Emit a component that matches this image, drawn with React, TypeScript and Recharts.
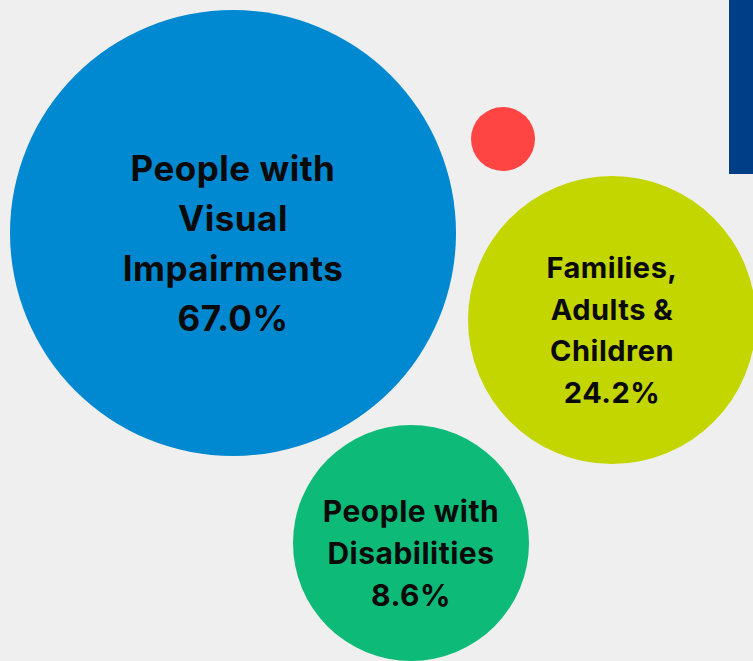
import { ScatterChart, Scatter, XAxis, YAxis, ZAxis } from 'recharts'

// bubble centres / radii (pixel-like units)
const categories = ['People with Visual Impairments', 'Families, Adults & Children', 'People with Disabilities', 'Other']
const labelLines = [
  ['People with', 'Visual', 'Impairments'],
  ['Families,', 'Adults &', 'Children'],
  ['People with', 'Disabilities'],
  [],
]
const shares = [67.0, 24.2, 8.6, null]
const bubbleX = [233, 612, 411, 503]
const bubbleY = [233, 320, 543, 139]
const bubbleR = [223, 144, 118, 32]
const COLORS = ['#0088d1', '#c3d600', '#0dba78', '#ff4444']
const FONT_SIZES = [35, 29, 30, 0]
const LINE_HEIGHTS = [50, 41.5, 42, 0]

const WIDTH = 753
const HEIGHT = 661

const data = categories.map((name, i) => ({
  idx: i,
  name,
  lines: labelLines[i],
  share: shares[i],
  x: bubbleX[i],
  y: bubbleY[i],
  z: bubbleR[i],
}))

const Bubble = (props: any) => {
  const { cx, cy, size, payload } = props
  const i = payload.idx
  const fontSize = FONT_SIZES[i]
  const lineH = LINE_HEIGHTS[i]
  const lines: string[] = payload.share != null ? [...payload.lines, `${payload.share.toFixed(1)}%`] : []
  const start = cy + 10 - ((lines.length - 1) * lineH) / 2
  return (
    <g>
      <circle cx={cx} cy={cy} r={size} fill={COLORS[i]} />
      {lines.map((t, k) => (
        <text
          key={k}
          x={cx}
          y={start + k * lineH}
          textAnchor="middle"
          dominantBaseline="central"
          fontFamily="Inter, 'Noto Sans', sans-serif"
          fontWeight={700}
          fontSize={fontSize}
          letterSpacing={0.5}
          fill="#0a0a0a"
        >
          {t}
        </text>
      ))}
    </g>
  )
}

export default function App() {
  return (
    <div style={{ position: 'absolute', left: 0, top: 0, width: WIDTH, height: HEIGHT, background: '#efefef', overflow: 'hidden' }}>
      <div style={{ position: 'absolute', left: 729, top: 0, width: 24, height: 174, background: '#003f87' }} />
      <div style={{ position: 'absolute', left: 0, top: 0 }}>
        <ScatterChart width={WIDTH} height={HEIGHT} margin={{ top: 0, right: 0, bottom: 0, left: 0 }}>
          <XAxis type="number" dataKey="x" domain={[0, WIDTH]} hide />
          <YAxis type="number" dataKey="y" domain={[0, HEIGHT]} reversed hide />
          <ZAxis type="number" dataKey="z" domain={[0, 250]} range={[0, 250]} />
          <Scatter data={data} shape={<Bubble />} isAnimationActive={false} />
        </ScatterChart>
      </div>
    </div>
  )
}
